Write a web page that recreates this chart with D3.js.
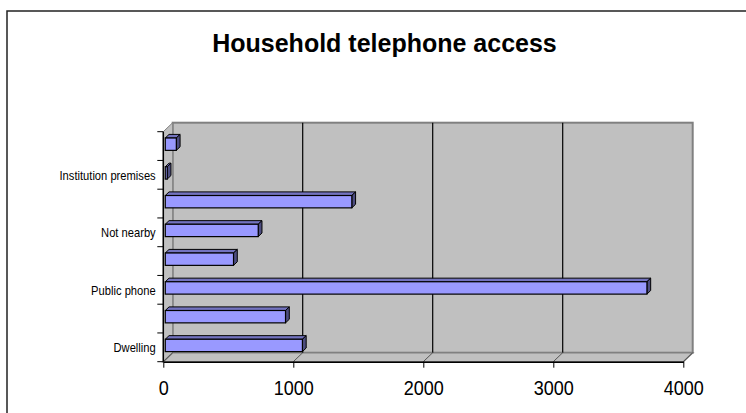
<!DOCTYPE html>
<html>
<head>
<meta charset="utf-8">
<script src="https://cdn.jsdelivr.net/npm/d3@7"></script>
<style>
  body { margin: 0; background: #fff; }
  svg { display: block; }
</style>
</head>
<body>
<script>
// categories from bottom to top, only every other one is labelled
const categories = ["Dwelling", "", "Public phone", "", "Not nearby", "", "Institution premises", ""];
const values = [1055, 925, 3705, 525, 715, 1435, 15, 85];
const xTicks = [0, 1000, 2000, 3000, 4000];

const w = 746, h = 413;
const depth = { dx: 9.4, dy: -9 };   // 3d offset front plane -> back wall
const barZ = [0.21, 0.61];          // bar front/back as fraction of depth

const svg = d3.select("body").append("svg")
  .attr("width", w)
  .attr("height", h);

// outer chart frame
svg.append("rect")
  .attr("x", 7).attr("y", 11)
  .attr("width", w + 10).attr("height", h + 10)
  .attr("fill", "#fff")
  .attr("stroke", "#222")
  .attr("stroke-width", 1.5);

svg.append("text")
  .attr("x", 384.5).attr("y", 52)
  .attr("text-anchor", "middle")
  .attr("font-family", "Liberation Sans, Arial, sans-serif")
  .attr("font-weight", "bold")
  .attr("font-size", 25)
  .text("Household telephone access");

const x = d3.scaleLinear().domain([0, 4000]).range([163.3, 683.3]);
const y = d3.scaleBand().domain(d3.range(categories.length)).range([361.7, 131.7]);

const x0 = x(0), x1 = x(4000), yTop = 131.7, yBot = 361.7;
const pt = (px, py, t) => [px + depth.dx * t, py + depth.dy * t];
const poly = (pts) => "M" + pts.map(p => p.join(",")).join("L") + "Z";

// back wall
svg.append("rect")
  .attr("x", x0 + depth.dx).attr("y", yTop + depth.dy)
  .attr("width", x1 - x0).attr("height", yBot - yTop)
  .attr("fill", "#c0c0c0")
  .attr("stroke", "#808080")
  .attr("stroke-width", 2);

// side wall
svg.append("path")
  .attr("d", poly([[x0, yTop], pt(x0, yTop, 1), pt(x0, yBot, 1), [x0, yBot]]))
  .attr("fill", "#c0c0c0")
  .attr("stroke", "#808080")
  .attr("stroke-width", 1);

// floor
svg.append("path")
  .attr("d", poly([[x0, yBot], pt(x0, yBot, 1), pt(x1, yBot, 1), [x1, yBot]]))
  .attr("fill", "#c0c0c0")
  .attr("stroke", "#808080")
  .attr("stroke-width", 1.5);

// gridlines on back wall and floor
const grid = svg.append("g");
xTicks.slice(1, -1).forEach(v => {
  grid.append("line")
    .attr("x1", x(v) + depth.dx).attr("x2", x(v) + depth.dx)
    .attr("y1", yTop + depth.dy).attr("y2", yBot + depth.dy)
    .attr("stroke", "#000").attr("stroke-width", 1.2);
});
xTicks.forEach(v => {
  grid.append("line")
    .attr("x1", x(v)).attr("y1", yBot)
    .attr("x2", x(v) + depth.dx).attr("y2", yBot + depth.dy)
    .attr("stroke", "#555").attr("stroke-width", 1);
});

// bars
const barH = y.bandwidth() * 0.43;
const bars = svg.append("g").selectAll("g")
  .data(values)
  .enter().append("g");

bars.each(function (d, i) {
  const g = d3.select(this);
  const cy = y(i) + y.bandwidth() / 2;
  const top = cy - barH / 2, bot = cy + barH / 2;
  const l = x(0), r = x(d);
  const [t0, t1] = barZ;
  const F = (px, py) => pt(px, py, t0);
  const B = (px, py) => pt(px, py, t1);
  // top face
  g.append("path")
    .attr("d", poly([F(l, top), B(l, top), B(r, top), F(r, top)]))
    .attr("fill", "#7373bf").attr("stroke", "#000").attr("stroke-width", 1)
    .attr("stroke-linejoin", "round");
  // side face
  g.append("path")
    .attr("d", poly([F(r, top), B(r, top), B(r, bot), F(r, bot)]))
    .attr("fill", "#4d4d80").attr("stroke", "#000").attr("stroke-width", 1)
    .attr("stroke-linejoin", "round");
  // front face
  const f = F(l, top);
  g.append("rect")
    .attr("x", f[0]).attr("y", f[1])
    .attr("width", Math.max(r - l, 0.5)).attr("height", bot - top)
    .attr("fill", "#9999ff").attr("stroke", "#000").attr("stroke-width", 1.2);
});

// value axis (front)
const xAxis = d3.axisBottom(x).tickValues(xTicks).tickFormat(d3.format("d"))
  .tickSize(6).tickSizeOuter(0);
const gx = svg.append("g").attr("transform", `translate(0,${yBot})`).call(xAxis);
gx.select(".domain").attr("stroke", "#000").attr("stroke-width", 1.5);
gx.selectAll(".tick line").attr("stroke", "#000");
gx.selectAll(".tick text")
  .attr("y", 0).attr("dy", 0)
  .attr("transform", "translate(0,33) scale(0.86,1)")
  .attr("font-family", "Liberation Sans, Arial, sans-serif")
  .attr("font-size", 21)
  .attr("fill", "#000");

// category axis
const yEdge = d3.scaleLinear().domain([0, categories.length]).range([yBot, yTop]);
const gy = svg.append("g");
gy.append("line")
  .attr("x1", x0).attr("x2", x0).attr("y1", yTop).attr("y2", yBot)
  .attr("stroke", "#000").attr("stroke-width", 1.5);
d3.range(categories.length + 1).forEach(k => {
  gy.append("line")
    .attr("x1", x0 - 6).attr("x2", x0)
    .attr("y1", yEdge(k)).attr("y2", yEdge(k))
    .attr("stroke", "#000");
});
gy.selectAll("text")
  .data(categories)
  .enter().append("text")
  .attr("transform", (d, i) => `translate(155.7,${y(i) + y.bandwidth() / 2 + 5}) scale(0.86,1)`)
  .attr("text-anchor", "end")
  .attr("font-family", "Liberation Sans, Arial, sans-serif")
  .attr("font-size", 13)
  .text(d => d);
</script>
</body>
</html>
